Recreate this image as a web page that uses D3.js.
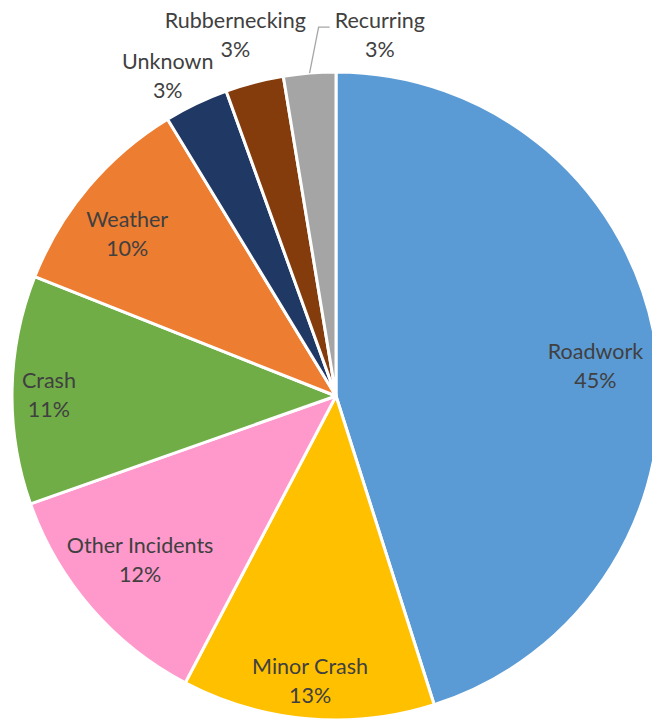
<!DOCTYPE html>
<html><head><meta charset="utf-8">
<script src="https://cdn.jsdelivr.net/npm/d3@7"></script>
<style>html,body{margin:0;padding:0;background:#fff;}svg{display:block;}</style>
</head><body>
<svg id="chart" width="652" height="721"></svg>
<script>
const categories = ["Roadwork","Minor Crash","Other Incidents","Crash","Weather","Unknown","Rubbernecking","Recurring"];
const values = [45.1,12.6,11.9,11.4,10.3,3.2,2.9,2.6];
const labels = ["45%","13%","12%","11%","10%","3%","3%","3%"];
const colors = ["#5B9BD5","#FFC000","#FF99CC","#70AD47","#ED7D31","#203864","#843C0C","#A5A5A5"];

// label layout: radius factor (relative to pie radius) and angular shift (degrees) from slice middle
const labelRadius = [0.806,0.885,0.79,0.886,0.816,1.115,1.157,1.122];
const labelShift  = [2.3,0.15,0.8,-0.9,-2.3,-2.2,-1.0,11.6];
const leaderLines = ["Recurring"];

const cx=336, cy=396, R=324;
const svg=d3.select("#chart");
const g=svg.append("g").attr("transform",`translate(${cx},${cy})`);
const data=categories.map((c,i)=>({name:c,value:values[i],label:labels[i],color:colors[i],lr:labelRadius[i],ls:labelShift[i]}));
const pie=d3.pie().value(d=>d.value).sort(null);
const arcs=pie(data);
const arc=d3.arc().innerRadius(0).outerRadius(R);
g.selectAll("path.slice").data(arcs).join("path").attr("class","slice")
  .attr("d",arc).attr("fill",d=>d.data.color).attr("stroke","#fff").attr("stroke-width",3).attr("stroke-linejoin","round");

const fontFam="Lato, 'Open Sans', sans-serif";
arcs.forEach(d=>{
  const mid=(d.startAngle+d.endAngle)/2;
  const a=mid+d.data.ls*Math.PI/180, r=R*d.data.lr;
  const x=Math.sin(a)*r, y=-Math.cos(a)*r;
  const t=g.append("text").attr("text-anchor","middle")
    .attr("font-family",fontFam).attr("font-size",21.5).attr("fill","#404040");
  t.append("tspan").attr("x",x).attr("y",y-7.3).text(d.data.name);
  t.append("tspan").attr("x",x).attr("y",y+21.7).text(d.data.label);
  if(leaderLines.includes(d.data.name)){
    const bb=t.node().getBBox();
    const p0=[Math.sin(mid)*R, -Math.cos(mid)*R];
    const ly=y-8;
    const left=bb.x;
    g.append("polyline")
      .attr("points",[p0,[left-16,ly],[left-5,ly]].map(p=>p.join(",")).join(" "))
      .attr("fill","none").attr("stroke","#A6A6A6").attr("stroke-width",1.3);
  }
});
</script>
</body></html>
